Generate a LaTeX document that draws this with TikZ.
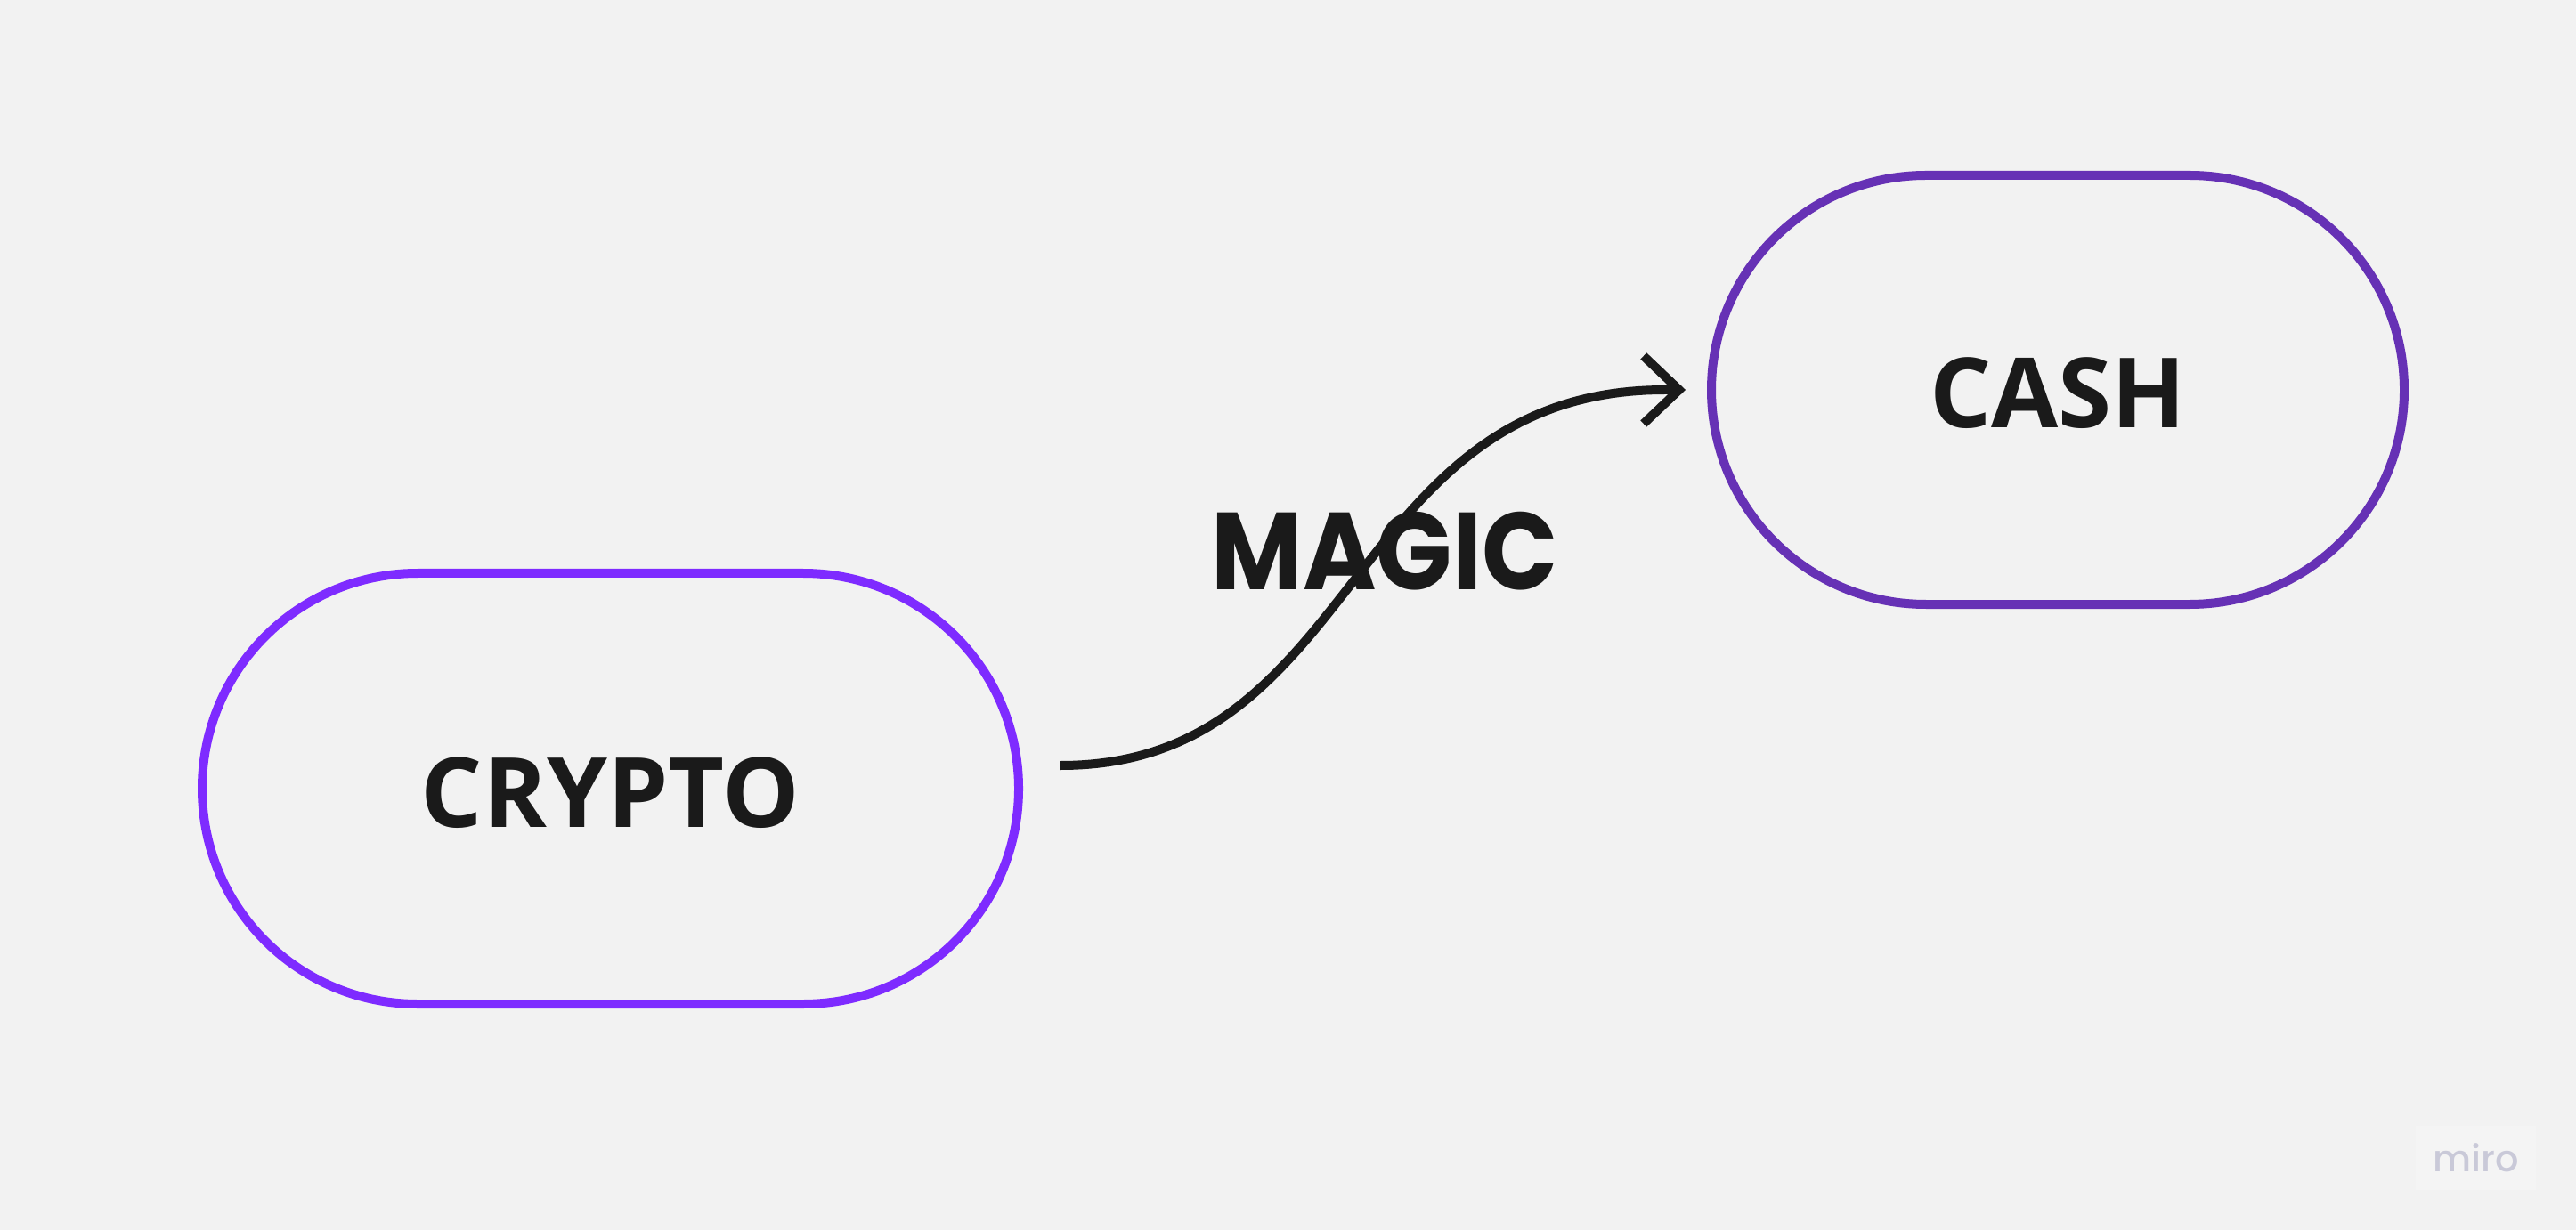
\documentclass[tikz,border=0pt]{standalone}
\usepackage{fontspec}
\setmainfont{Open Sans}
\newfontfamily\magicfont{Poppins}
\newfontfamily\logofont{Poppins Medium}
\usetikzlibrary{shapes.misc,arrows.meta,bending,positioning}
\definecolor{pagegrey}{HTML}{F2F2F2}
\definecolor{inkblack}{HTML}{1A1A1A}
\definecolor{cryptoviolet}{HTML}{7E2BFF}
\definecolor{cashviolet}{HTML}{6631B5}
\definecolor{logogrey}{HTML}{C9C9D8}
\definecolor{logopatch}{HTML}{F4F4F4}

\begin{document}
\begin{tikzpicture}[
    pill/.style={rounded rectangle, draw, line width=0.1cm, inner sep=0pt, text=inkblack, text height=0.86cm, text depth=0cm, font=\fontsize{31}{31}\selectfont\bfseries},
    cryptopill/.style={pill, draw=cryptoviolet, minimum width=9.17cm, minimum height=4.84cm},
    cashpill/.style={pill, draw=cashviolet, minimum width=7.78cm, minimum height=4.82cm},
    flow/.style={draw=inkblack, line width=0.1cm, -{Straight Barb[length=0.40cm,width=0.76cm,flex=0]}}
]
    % Page
    \fill[pagegrey] (0,0) rectangle (28.93,13.82);
    \useasboundingbox (0,0) rectangle (28.93,13.82);

    % Boxes
    \node[cryptopill] (crypto) at (6.855,4.96) {CRYPTO};
    \node[cashpill] (cash) at (23.11,9.44) {CASH};

    % Connector
    \coordinate (magicstart) at (11.91,5.22);
    \coordinate (magicbend) at (18.70,9.44);
    \coordinate (magicend) at (18.93,9.44);
    \draw[flow] (magicstart) .. controls +(3.4,0) and +(-3.6,0) .. (magicbend) -- (magicend);
    \node[text=inkblack, font=\magicfont\fontsize{35}{35}\selectfont\bfseries] (magic) at (15.55,7.63) {\scalebox{0.91}[1]{MAGIC}};

    % Logo
    \node[fill=logopatch, minimum width=1.35cm, minimum height=0.72cm, inner sep=0pt] (logopatch) at (27.805,0.81) {};
    \node[text=logogrey, font=\logofont\fontsize{11.8}{11.8}\selectfont, inner sep=0pt] (logo) at (logopatch) {miro};
\end{tikzpicture}
\end{document}
